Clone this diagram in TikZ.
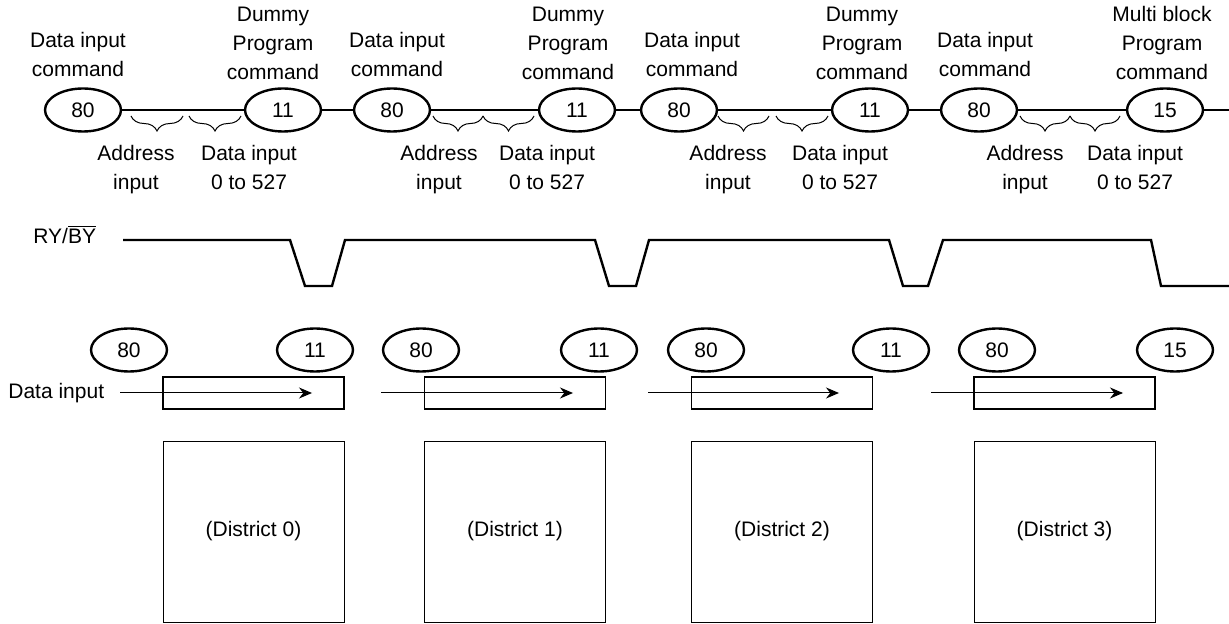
\documentclass[tikz,border=0pt]{standalone}
\usepackage{fontspec}
\setmainfont{Liberation Sans}
\usetikzlibrary{shapes.geometric,arrows.meta,decorations.pathreplacing}
\tikzset{
  cmd/.style={draw,ellipse,line width=1.2pt,minimum width=38pt,minimum height=21.5pt,inner sep=0pt},
  lbl/.style={align=center,inner sep=0pt},
  bus/.style={line width=1.2pt},
  brc/.style={decorate,decoration={brace,mirror,amplitude=7.5pt},line width=0.5pt},
  wave/.style={line width=1.2pt},
  buf/.style={draw,line width=0.6pt,minimum width=90.5pt,minimum height=16pt,inner sep=0pt},
  district/.style={draw,line width=0.5pt,minimum width=90.5pt,minimum height=90.5pt,inner sep=0pt},
  feed/.style={-{Stealth[length=6.5pt,width=5.5pt]},line width=0.5pt}
}
\begin{document}
\begin{tikzpicture}[x=0.5pt,y=-0.5pt,font=\fontsize{10.5}{14.5}\selectfont]
  \useasboundingbox (0,0) rectangle (1229,624);

  % command sequence
  \node[cmd] (c80a) at (83,110) {80};
  \node[cmd] (c11a) at (283,110) {11};
  \node[cmd] (c80b) at (392,110) {80};
  \node[cmd] (c11b) at (577,110) {11};
  \node[cmd] (c80c) at (679,110) {80};
  \node[cmd] (c11c) at (870,110) {11};
  \node[cmd] (c80d) at (979,110) {80};
  \node[cmd] (c15d) at (1165,110) {15};
  \coordinate (tail) at (1229,110);
  \draw[bus] (c80a) -- (c11a) -- (c80b) -- (c11b) -- (c80c) -- (c11c) -- (c80d) -- (c15d) -- (tail);

  \node[lbl,anchor=south] (dia) at (78,77) {Data input\\command};
  \node[lbl,anchor=south] (dpa) at (273,80) {Dummy\\Program\\command};
  \node[lbl,anchor=south] (dib) at (397,77) {Data input\\command};
  \node[lbl,anchor=south] (dpb) at (568,80) {Dummy\\Program\\command};
  \node[lbl,anchor=south] (dic) at (692,77) {Data input\\command};
  \node[lbl,anchor=south] (dpc) at (862,80) {Dummy\\Program\\command};
  \node[lbl,anchor=south] (did) at (985,77) {Data input\\command};
  \node[lbl,anchor=south] (mpd) at (1162,80) {Multi block\\Program\\command};

  % address / data braces
  \draw[brc] (131,116) -- (183,116);
  \draw[brc] (189,116) -- (241,116);
  \draw[brc] (433,116) -- (483,116);
  \draw[brc] (483,116) -- (534,116);
  \draw[brc] (718,116) -- (769,116);
  \draw[brc] (776,116) -- (828,116);
  \draw[brc] (1020,116) -- (1070,116);
  \draw[brc] (1070,116) -- (1120,116);

  \node[lbl,anchor=north] (ada) at (136,145) {Address\\input};
  \node[lbl,anchor=north] (dda) at (249,145) {Data input\\0 to 527};
  \node[lbl,anchor=north] (adb) at (439,145) {Address\\input};
  \node[lbl,anchor=north] (ddb) at (547,145) {Data input\\0 to 527};
  \node[lbl,anchor=north] (adc) at (728,145) {Address\\input};
  \node[lbl,anchor=north] (ddc) at (840,145) {Data input\\0 to 527};
  \node[lbl,anchor=north] (add) at (1025,145) {Address\\input};
  \node[lbl,anchor=north] (ddd) at (1135,145) {Data input\\0 to 527};

  % ready/busy
  \node[lbl,anchor=base west] (rb) at (33,244) {RY/$\overline{\hbox{BY}}$};
  \draw[wave] (123,240) -- (290,240) -- (305,286) -- (332,286) -- (345,240)
    -- (595,240) -- (609,286) -- (636,286) -- (649,240)
    -- (889,240) -- (903,286) -- (928,286) -- (943,240)
    -- (1151,240) -- (1161,286) -- (1229,286);

  % data register
  \node[cmd] (l80a) at (129,350) {80};
  \node[cmd] (l11a) at (315,350) {11};
  \node[cmd] (l80b) at (421,350) {80};
  \node[cmd] (l11b) at (599,350) {11};
  \node[cmd] (l80c) at (706,350) {80};
  \node[cmd] (l11c) at (891,350) {11};
  \node[cmd] (l80d) at (997,350) {80};
  \node[cmd] (l15d) at (1175,350) {15};

  \node[lbl,anchor=west] (din) at (8,393) {Data input};
  \node[buf] (bufa) at (253.5,393) {};
  \node[buf] (bufb) at (515,393) {};
  \node[buf] (bufc) at (782,393) {};
  \node[buf] (bufd) at (1064.5,393) {};

  \coordinate (ina) at (120,393);
  \coordinate (outa) at (312,393);
  \coordinate (inb) at (381,393);
  \coordinate (outb) at (573,393);
  \coordinate (inc) at (648,393);
  \coordinate (outc) at (839,393);
  \coordinate (ind) at (931,393);
  \coordinate (outd) at (1123,393);
  \draw[feed] (ina) -- (outa);
  \draw[feed] (inb) -- (outb);
  \draw[feed] (inc) -- (outc);
  \draw[feed] (ind) -- (outd);

  % districts
  \node[district] (dsa) at (253.5,531.5) {(District 0)};
  \node[district] (dsb) at (515,531.5) {(District 1)};
  \node[district] (dsc) at (782,531.5) {(District 2)};
  \node[district] (dsd) at (1064.5,531.5) {(District 3)};
\end{tikzpicture}
\end{document}
